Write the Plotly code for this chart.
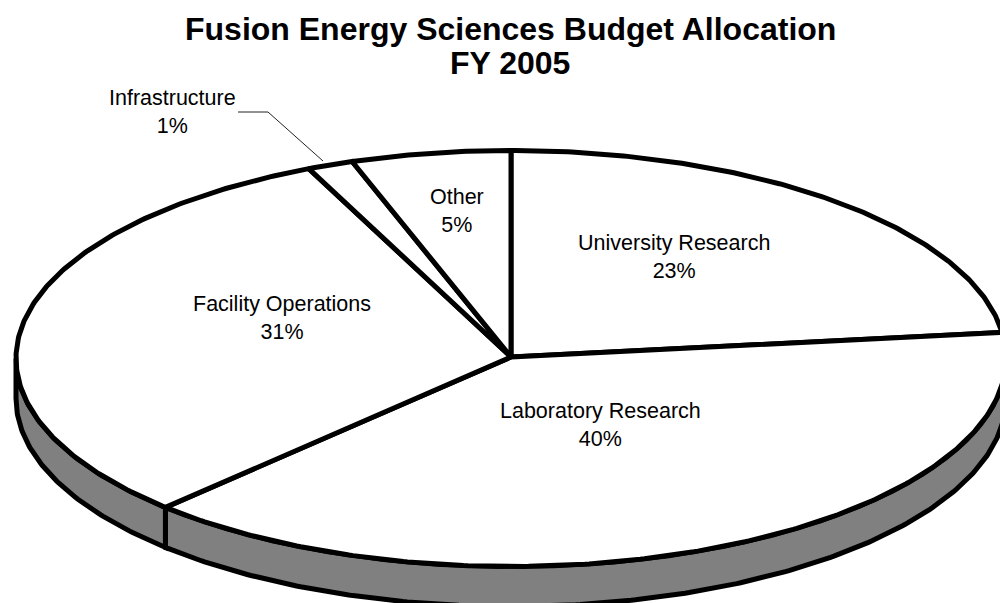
import numpy as np
import plotly.graph_objects as go

# slices clockwise from 12 o'clock, widths
categories = ["University Research", "Laboratory Research", "Facility Operations", "Infrastructure", "Other"]
slice_values = [23.0, 39.3, 31.0, 1.5, 5.2]
percent_labels = ["23%", "40%", "31%", "1%", "5%"]

title_lines = ["Fusion Energy Sciences Budget Allocation", "FY 2005"]

# where the pie sits on the page, in pixels
cx, cy = 511, 358.5
rx, ry = 495, 208
depth = 40
spoke_cy = 357
edge_width = 5

label_pos = {
    "University Research": (674, 257),
    "Laboratory Research": (600, 425),
    "Facility Operations": (282, 318),
    "Infrastructure": (172.5, 112),
    "Other": (457, 211),
}


def rim(a0, a1):
    # points on the top ellipse, angles in degrees clockwise from the top
    t = np.radians(np.linspace(a0, a1, max(int(abs(a1 - a0) * 2), 2)))
    return cx + rx * np.sin(t), cy - ry * np.cos(t)


fig = go.Figure()

angles = np.concatenate([[0], np.cumsum(slice_values) / sum(slice_values) * 360])

# side wall, only the front half of the pie shows it
for a0, a1 in zip(angles[:-1], angles[1:]):
    lo, hi = max(a0, 90), min(a1, 270)
    if hi <= lo:
        continue
    x, y = rim(lo, hi)
    fig.add_trace(go.Scatter(
        x=np.concatenate([x, x[::-1], x[:1]]),
        y=np.concatenate([y, y[::-1] + depth, y[:1]]),
        mode="lines",
        fill="toself",
        fillcolor="#808080",
        line=dict(color="black", width=edge_width),
        hoverinfo="skip",
    ))

# top face
for name, a0, a1 in zip(categories, angles[:-1], angles[1:]):
    x, y = rim(a0, a1)
    fig.add_trace(go.Scatter(
        x=np.concatenate([[cx], x, [cx]]),
        y=np.concatenate([[spoke_cy], y, [spoke_cy]]),
        mode="lines",
        fill="toself",
        fillcolor="white",
        line=dict(color="black", width=edge_width),
        name=name,
    ))

for name, pct in zip(categories, percent_labels):
    lx, ly = label_pos[name]
    fig.add_annotation(
        x=lx, y=ly, text=name + "<br>" + pct, showarrow=False,
        font=dict(family="Liberation Sans", size=21.5, color="black"),
    )

# leader line for the small slice
fig.add_shape(type="path", path="M 238 112 L 268 112 L 323 161",
              line=dict(color="#222222", width=1))

fig.add_annotation(x=510, y=29, text=title_lines[0], showarrow=False,
                   font=dict(family="Liberation Sans", size=32, color="black", weight="bold"))
fig.add_annotation(x=510, y=63, text=title_lines[1], showarrow=False,
                   font=dict(family="Liberation Sans", size=32, color="black", weight="bold"))

fig.update_xaxes(range=[0, 1000], visible=False)
fig.update_yaxes(range=[603, 0], visible=False)
fig.update_layout(
    width=1000, height=603,
    margin=dict(l=0, r=0, t=0, b=0),
    paper_bgcolor="white", plot_bgcolor="white",
    showlegend=False,
)

fig.write_html("out.html", config=dict(displayModeBar=False),
               post_script="document.body.style.margin='0';")
